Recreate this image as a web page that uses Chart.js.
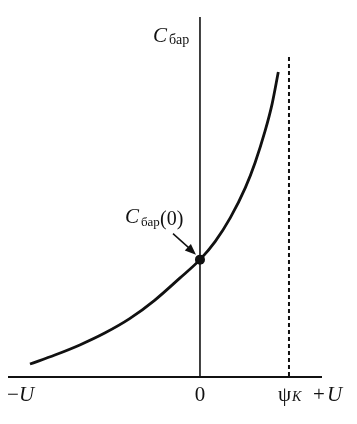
<!DOCTYPE html>
<html><head><meta charset="utf-8">
<script src="https://cdn.jsdelivr.net/npm/chart.js@4/dist/chart.umd.min.js"></script>
<style>html,body{margin:0;padding:0;background:#fff}#w{width:357px;height:424px}</style>
</head><body><div id="w"><canvas id="c" width="357" height="424"></canvas></div>
<script>
// Voltage U (units such that psi_K = 1) and barrier capacitance C_bar (arb. units)
const voltageU = [-1.91,-1.63,-1.35,-1.07,-0.79,-0.51,-0.23,0,0.17,0.34,0.51,0.62,0.73,0.81,0.88];
const capacitance = [0.36,0.61,0.89,1.22,1.62,2.13,2.74,3.26,3.76,4.42,5.26,5.96,6.82,7.58,8.47];
const psiK = 1;
const xRange = [-2.157, 1.371];
const yRange = [0, 10];
const tickLabels = ['−U', '0', 'ψ', '+U'];
const axisTitle = 'C';
const subBar = 'бар';

const serif = '"Liberation Serif", "DejaVu Serif", serif';

const deco = {
  id: 'deco',
  beforeDatasetsDraw(chart) {
    const ctx = chart.ctx, xs = chart.scales.x, ys = chart.scales.y;
    const x0 = xs.getPixelForValue(0), xk = xs.getPixelForValue(psiK);
    const yb = ys.getPixelForValue(yRange[0]), yt = ys.getPixelForValue(yRange[1]);
    const xl = xs.getPixelForValue(xRange[0]), xr = xs.getPixelForValue(xRange[1]);
    ctx.save();
    ctx.strokeStyle = '#111';
    ctx.lineWidth = 2;
    ctx.beginPath(); ctx.moveTo(xl, yb); ctx.lineTo(xr, yb); ctx.stroke();
    ctx.lineWidth = 1.6;
    ctx.beginPath(); ctx.moveTo(x0, yt); ctx.lineTo(x0, yb); ctx.stroke();
    ctx.lineWidth = 2;
    ctx.setLineDash([4, 3]);
    ctx.beginPath(); ctx.moveTo(xk, yt + 40); ctx.lineTo(xk, yb); ctx.stroke();
    ctx.restore();
  },
  afterDraw(chart) {
    const ctx = chart.ctx, xs = chart.scales.x, ys = chart.scales.y;
    const x0 = xs.getPixelForValue(0), xk = xs.getPixelForValue(psiK);
    const yb = ys.getPixelForValue(yRange[0]), yt = ys.getPixelForValue(yRange[1]);
    const xl = xs.getPixelForValue(xRange[0]), xr = xs.getPixelForValue(xRange[1]);
    const c0 = capacitance[voltageU.indexOf(0)];
    const dx = x0, dy = ys.getPixelForValue(c0);
    ctx.save();
    ctx.fillStyle = '#111';
    ctx.textBaseline = 'alphabetic';
    const by = yb + 24;
    ctx.font = '21px ' + serif;
    ctx.textAlign = 'left';
    ctx.fillText('−', xl - 1, by);
    ctx.font = 'italic 21px ' + serif;
    ctx.fillText('U', xl + 11, by);
    ctx.font = '21px ' + serif;
    ctx.textAlign = 'center';
    ctx.fillText(tickLabels[1], x0, by);
    ctx.textAlign = 'left';
    ctx.font = '21px ' + serif;
    ctx.fillText(tickLabels[2], xk - 11, by);
    ctx.font = 'italic 14px ' + serif;
    ctx.fillText('K', xk + 3, by);
    ctx.font = '21px ' + serif;
    ctx.fillText('+', xr - 9, by);
    ctx.font = 'italic 21px ' + serif;
    ctx.fillText('U', xr + 5, by);
    // axis title C_bar
    ctx.font = 'italic 21px ' + serif;
    ctx.fillText(axisTitle, x0 - 47, yt + 25);
    ctx.font = '14px ' + serif;
    ctx.fillText(subBar, x0 - 31, yt + 27);
    // annotation C_bar(0)
    ctx.font = 'italic 21px ' + serif;
    ctx.fillText(axisTitle, dx - 75, dy - 37);
    ctx.font = '13px ' + serif;
    ctx.fillText(subBar, dx - 59, dy - 34);
    ctx.font = '20px ' + serif;
    ctx.fillText('(0)', dx - 40, dy - 35);
    // arrow
    const ax0 = dx - 27, ay0 = dy - 26, ax1 = dx - 4, ay1 = dy - 5;
    ctx.strokeStyle = '#111'; ctx.lineWidth = 1.5;
    ctx.beginPath(); ctx.moveTo(ax0, ay0); ctx.lineTo(ax1 - 4, ay1 - 4); ctx.stroke();
    const ang = Math.atan2(ay1 - ay0, ax1 - ax0), L = 11, Wd = 4.5;
    ctx.beginPath();
    ctx.moveTo(ax1, ay1);
    ctx.lineTo(ax1 - L * Math.cos(ang) + Wd * Math.sin(ang), ay1 - L * Math.sin(ang) - Wd * Math.cos(ang));
    ctx.lineTo(ax1 - L * Math.cos(ang) - Wd * Math.sin(ang), ay1 - L * Math.sin(ang) + Wd * Math.cos(ang));
    ctx.closePath(); ctx.fill();
    ctx.restore();
  }
};

new Chart(document.getElementById('c'), {
  type: 'line',
  data: {
    datasets: [{
      data: voltageU.map((u, i) => ({x: u, y: capacitance[i]})),
      borderColor: '#111',
      backgroundColor: '#111',
      borderWidth: 2.8,
      cubicInterpolationMode: 'monotone',
      pointRadius: ctx => (ctx.raw && ctx.raw.x === 0 ? 5 : 0),
      pointBorderWidth: 0,
      fill: false
    }]
  },
  options: {
    responsive: false,
    animation: false,
    events: [],
    layout: {padding: {left: 8, right: 35, top: 17, bottom: 47}},
    plugins: {legend: {display: false}, tooltip: {enabled: false}},
    scales: {
      x: {type: 'linear', min: xRange[0], max: xRange[1], display: false},
      y: {type: 'linear', min: yRange[0], max: yRange[1], display: false}
    }
  },
  plugins: [deco]
});
</script>
</body></html>
